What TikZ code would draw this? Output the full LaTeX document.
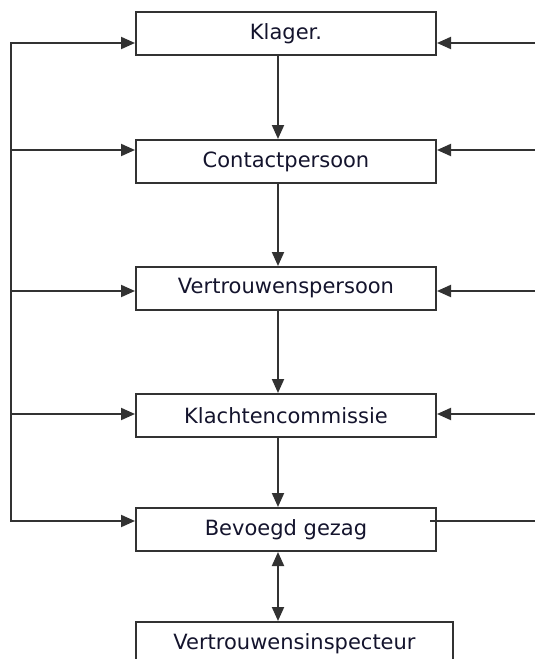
\documentclass[tikz,border=0pt]{standalone}
\usepackage{fontspec}
\setmainfont{DejaVu Sans}
\usepackage{xcolor}
\usetikzlibrary{arrows.meta,calc}
\definecolor{linegray}{RGB}{50,50,50}
\definecolor{textnavy}{RGB}{20,20,45}

\begin{document}
\begin{tikzpicture}[x=0.5pt, y=-0.5pt,
    box/.style={draw=linegray, line width=1pt, minimum width=150pt, minimum height=21.5pt,
        inner sep=0pt, text=textnavy, font=\fontsize{10.5}{12}\selectfont},
    link/.style={draw=linegray, line width=1pt},
    flow/.style={link, -{Triangle[length=7pt,width=6pt]}}]
    \useasboundingbox (0,0) rectangle (535,659);
    \clip (0,0) rectangle (535,659);
    \fill [white] (0,0) rectangle (535,659);

    \node [box] (klager) at (286,33.5) {Klager.};
    \node [box] (contact) at (286,161.5) {Contactpersoon};
    \node [box] (vertrouwen) at (286,288.5) {Vertrouwenspersoon};
    \node [box] (klachten) at (286,415.5) {Klachtencommissie};
    \node [box] (bevoegd) at (286,529.5) {Bevoegd gezag};
    \node [box, minimum width=158.5pt] (inspecteur) at (294.5,643.5) {Vertrouwensinspecteur};

    % side lines, left and right
    \coordinate (l1) at (11,43);
    \coordinate (l2) at (11,150);
    \coordinate (l3) at (11,291);
    \coordinate (l4) at (11,414);
    \coordinate (l5) at (11,521);
    \coordinate (r1) at (535,43);
    \coordinate (r2) at (535,150);
    \coordinate (r3) at (535,291);
    \coordinate (r4) at (535,414);
    \coordinate (r5) at (535,521);

    \draw [flow] (l5) -- (l1) -- (l1 -| klager.west);
    \draw [flow] (l1) -- (l5) -- (l5 -| bevoegd.west);
    \draw [flow] (l2) -- (l2 -| contact.west);
    \draw [flow] (l3) -- (l3 -| vertrouwen.west);
    \draw [flow] (l4) -- (l4 -| klachten.west);

    \draw [flow] (r1) -- (r1 -| klager.east);
    \draw [flow] (r2) -- (r2 -| contact.east);
    \draw [flow] (r3) -- (r3 -| vertrouwen.east);
    \draw [flow] (r4) -- (r4 -| klachten.east);
    \draw [link] (r5) -- ($(r5 -| bevoegd.east)+(-7,0)$);

    % the chain down the middle
    \draw [flow] ([xshift=-4pt]klager.south) -- ([xshift=-4pt]contact.north);
    \draw [flow] ([xshift=-4pt]contact.south) -- ([xshift=-4pt]vertrouwen.north);
    \draw [flow] ([xshift=-4pt]vertrouwen.south) -- ([xshift=-4pt]klachten.north);
    \draw [flow] ([xshift=-4pt]klachten.south) -- ([xshift=-4pt]bevoegd.north);
    \draw [link, {Triangle[length=7pt,width=6pt]}-{Triangle[length=7pt,width=6pt]}]
        ([xshift=-4pt]bevoegd.south) -- ([xshift=-4pt]bevoegd.south |- inspecteur.north);
\end{tikzpicture}
\end{document}
